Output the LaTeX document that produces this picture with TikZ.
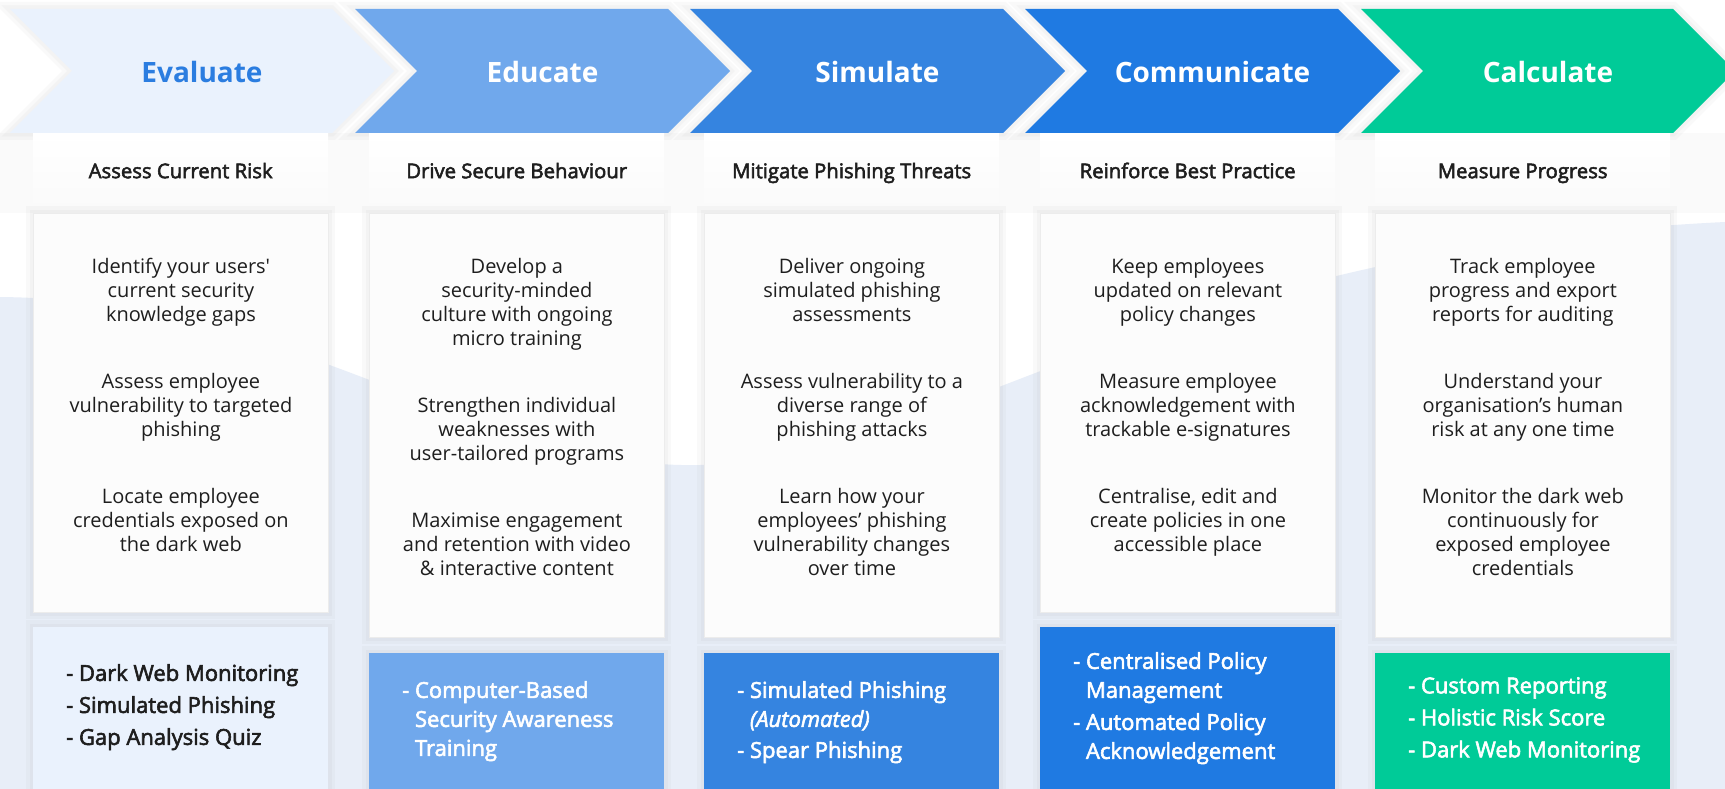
\documentclass[tikz,border=0pt]{standalone}
\usepackage{fontspec}
\setmainfont{Open Sans}
\newfontfamily\semib{Open Sans}[FakeBold=2.6]
\newfontfamily\straight{Open Sans}
\usetikzlibrary{positioning}

\definecolor{evalfill}{HTML}{EAF2FD}
\definecolor{evaltext}{HTML}{2B7DE0}
\definecolor{educfill}{HTML}{70A8EC}
\definecolor{simufill}{HTML}{3584E0}
\definecolor{commfill}{HTML}{1F7AE2}
\definecolor{calcfill}{HTML}{00CB98}
\definecolor{bgblue}{HTML}{E8EEF8}
\definecolor{boxgray}{HTML}{FCFCFC}
\definecolor{boxline}{HTML}{ECECEC}
\definecolor{inkdark}{HTML}{1E1E1E}

\tikzset{
  softshadow/.style={preaction={draw=black!60, draw opacity=0.035, line width=14pt},
                     preaction={draw=black!60, draw opacity=0.04, line width=7pt}},
  chevron/.style={softshadow},
  chevtext/.style={anchor=base, inner sep=0pt, font=\fontsize{28}{32}\selectfont\bfseries, text=white},
  headbox/.style={anchor=north west, minimum width=295pt, minimum height=79pt, inner sep=0pt,
                  top color=white, bottom color=black!2, text=inkdark,
                  text height=15pt, text depth=4pt, font=\semib\fontsize{20.3}{24}\selectfont},
  mainbox/.style={anchor=north west, minimum width=295pt, inner sep=0pt, fill=boxgray,
                  draw=boxline, line width=0.8pt, softshadow},
  bodytext/.style={align=center, inner sep=0pt, text=inkdark, font=\fontsize{20}{24}\selectfont},
  listbox/.style={anchor=north west, minimum width=295pt, minimum height=170pt, inner sep=0pt, softshadow},
  listtext/.style={align=left, inner sep=0pt, text=white, font=\semib\fontsize{22}{29}\selectfont}
}

\begin{document}
\begin{tikzpicture}[x=1pt,y=-1pt]
\useasboundingbox (0,0) rectangle (1725,789);
\fill[white] (0,0) rectangle (1725,789);
% pale blue backdrop
\fill[bgblue] (0,297) .. controls (300,300) and (480,470) .. (700,465)
  .. controls (950,460) and (1150,250) .. (1725,222) -- (1725,789) -- (0,789) -- cycle;
\fill[black!2] (0,133) rectangle (1725,213);

% the five steps
\path[chevron, fill=evalfill] (10,9) -- (332,9) -- (394,71) -- (332,133) -- (10,133) -- (72,71) -- cycle;
\path[chevron, fill=educfill] (355,9) -- (668,9) -- (730,71) -- (668,133) -- (355,133) -- (417,71) -- cycle;
\path[chevron, fill=simufill] (690,9) -- (1003,9) -- (1065,71) -- (1003,133) -- (690,133) -- (752,71) -- cycle;
\path[chevron, fill=commfill] (1025,9) -- (1338,9) -- (1400,71) -- (1338,133) -- (1025,133) -- (1087,71) -- cycle;
\path[chevron, fill=calcfill] (1361,9) -- (1673,9) -- (1735,71) -- (1673,133) -- (1361,133) -- (1423,71) -- cycle;

\node[chevtext, text=evaltext] (evaluate) at (202,83) {Evaluate};
\node[chevtext] (educate) at (542.5,83) {Educate};
\node[chevtext] (simulate) at (877.5,83) {Simulate};
\node[chevtext] (communicate) at (1212.5,83) {Communicate};
\node[chevtext] (calculate) at (1548,83) {Calculate};

% headers
\node[headbox] (head1) at (33,133) {Assess Current Risk};
\node[headbox] (head2) at (369,133) {Drive Secure Behaviour};
\node[headbox] (head3) at (704,133) {Mitigate Phishing Threats};
\node[headbox] (head4) at (1040,133) {Reinforce Best Practice};
\node[headbox] (head5) at (1375,133) {Measure Progress};

% main boxes
\node[mainbox, minimum height=399pt] (main1) at (33,213) {};
\node[mainbox, minimum height=424pt] (main2) at (369,213) {};
\node[mainbox, minimum height=424pt] (main3) at (704,213) {};
\node[mainbox, minimum height=399pt] (main4) at (1040,213) {};
\node[mainbox, minimum height=424pt] (main5) at (1375,213) {};

\node[bodytext, below=45pt of main1.north] (txt1) {Identify your users{\straight'}\\current security\\knowledge gaps\\[43pt]
  Assess employee\\vulnerability to targeted\\phishing\\[43pt]
  Locate employee\\credentials exposed on\\the dark web};
\node[bodytext, below=45pt of main2.north] (txt2) {Develop a\\security-minded\\culture with ongoing\\micro training\\[43pt]
  Strengthen individual\\weaknesses with\\user-tailored programs\\[43pt]
  Maximise engagement\\and retention with video\\\& interactive content};
\node[bodytext, below=45pt of main3.north] (txt3) {Deliver ongoing\\simulated phishing\\assessments\\[43pt]
  Assess vulnerability to a\\diverse range of\\phishing attacks\\[43pt]
  Learn how your\\employees’ phishing\\vulnerability changes\\over time};
\node[bodytext, below=45pt of main4.north] (txt4) {Keep employees\\updated on relevant\\policy changes\\[43pt]
  Measure employee\\acknowledgement with\\trackable e-signatures\\[43pt]
  Centralise, edit and\\create policies in one\\accessible place};
\node[bodytext, below=45pt of main5.north] (txt5) {Track employee\\progress and export\\reports for auditing\\[43pt]
  Understand your\\organisation’s human\\risk at any one time\\[43pt]
  Monitor the dark web\\continuously for\\exposed employee\\credentials};

% product boxes
\node[listbox, fill=evalfill] (list1) at (33,627) {};
\node[listbox, fill=educfill] (list2) at (369,653) {};
\node[listbox, fill=simufill] (list3) at (704,653) {};
\node[listbox, fill=commfill] (list4) at (1040,627) {};
\node[listbox, fill=calcfill] (list5) at (1375,653) {};

\node[listtext, text=inkdark, below right=37pt and 33pt of list1.north west] (items1)
  {- Dark Web Monitoring\\[3pt]- Simulated Phishing\\[3pt]- Gap Analysis Quiz};
\node[listtext, below right=28pt and 33pt of list2.north west] (items2)
  {- Computer-Based\\\phantom{- }Security Awareness\\\phantom{- }Training};
\node[listtext, below right=28pt and 33pt of list3.north west] (items3)
  {- Simulated Phishing\\\phantom{- }\textit{(Automated)}\\[2pt]- Spear Phishing};
\node[listtext, below right=25pt and 33pt of list4.north west] (items4)
  {- Centralised Policy\\\phantom{- }Management\\[3pt]- Automated Policy\\\phantom{- }Acknowledgement};
\node[listtext, below right=24pt and 33pt of list5.north west] (items5)
  {- Custom Reporting\\[3pt]- Holistic Risk Score\\[3pt]- Dark Web Monitoring};
\end{tikzpicture}
\end{document}
